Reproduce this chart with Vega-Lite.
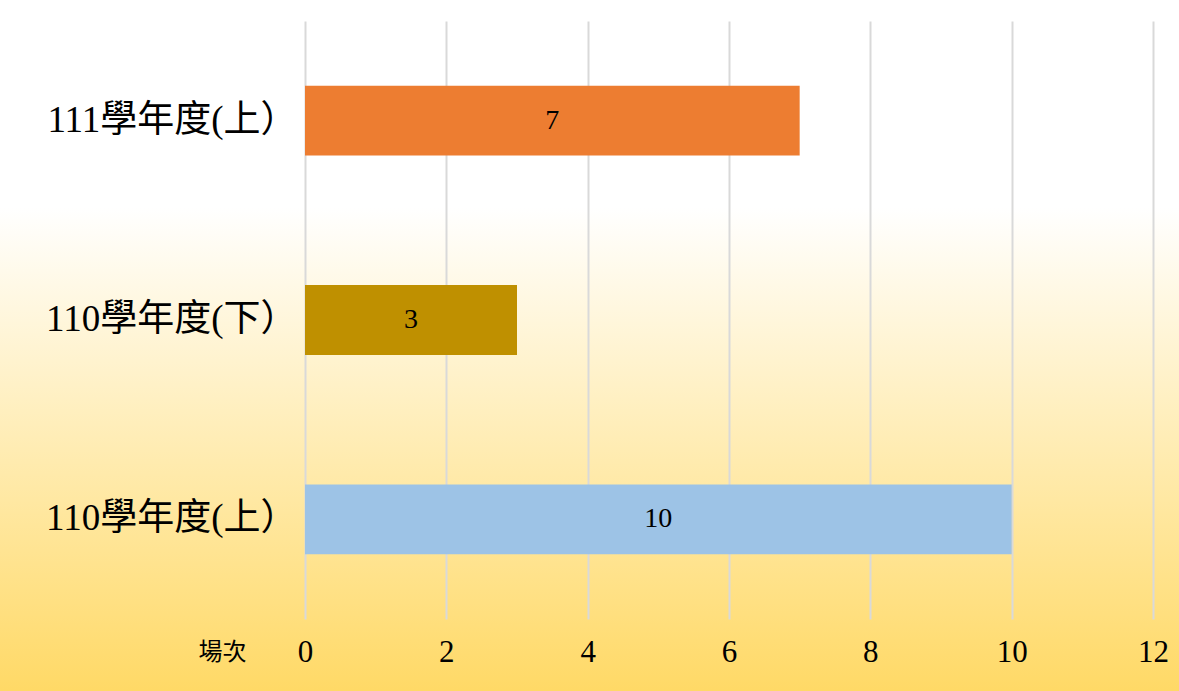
{
  "$schema": "https://vega.github.io/schema/vega-lite/v6.json",
  "width": 1179,
  "height": 691,
  "autosize": {"type": "none"},
  "padding": 0,
  "background": "#ffffff",
  "config": {
    "view": {"stroke": null, "fill": {"gradient": "linear", "x1": 0, "y1": 0, "x2": 0, "y2": 1, "stops": [{"offset": 0, "color": "#ffffff"}, {"offset": 0.3, "color": "#ffffff"}, {"offset": 1, "color": "#ffd966"}]}},
    "font": "'Liberation Serif', 'Noto Sans CJK TC'",
    "axis": {"labelFont": "'Liberation Serif', 'Noto Sans CJK TC'", "titleFont": "'Liberation Serif', 'Noto Sans CJK TC'"}
  },
  "data": {"values": [
    {"term": "111學年度(上）", "value": 7},
    {"term": "110學年度(下）", "value": 3},
    {"term": "110學年度(上）", "value": 10}
  ]},
  "transform": [{"calculate": "datum.value / 2", "as": "mid"}],
  "encoding": {
    "y": {"field": "term", "type": "nominal", "sort": ["111學年度(上）", "110學年度(下）", "110學年度(上）"],
      "scale": {"range": [21, 619], "paddingInner": 0.65, "paddingOuter": 0.325},
      "axis": {"title": null, "domain": false, "ticks": false, "offset": -305, "labelFontSize": 37, "labelColor": "#000000", "labelPadding": 8, "labelLimit": 400}}
  },
  "layer": [
    {
      "mark": {"type": "bar"},
      "encoding": {
        "x": {"field": "value", "type": "quantitative", "scale": {"domain": [0, 12], "range": [305, 1153], "nice": false},
          "axis": {"orient": "top", "values": [0, 2, 4, 6, 8, 10, 12], "format": "d", "offset": -619, "domain": false, "ticks": false, "grid": true, "gridColor": "#d9d9d9", "gridWidth": 2, "labelFontSize": 31, "labelColor": "#000000", "labelPadding": -33, "labelBaseline": "middle", "labelFlush": false,
            "title": "場次", "titleFontSize": 24, "titleFontWeight": "normal", "titleColor": "#000000", "titleX": 222, "titleY": 33, "titleAlign": "center", "titleBaseline": "middle", "titleAnchor": null}},
        "color": {"field": "term", "type": "nominal", "legend": null,
          "scale": {"domain": ["111學年度(上）", "110學年度(下）", "110學年度(上）"], "range": ["#ed7d31", "#bf9000", "#9dc3e6"]}}
      }
    },
    {
      "mark": {"type": "text", "fontSize": 28, "color": "#000000", "baseline": "middle", "align": "center"},
      "encoding": {
        "x": {"field": "mid", "type": "quantitative"},
        "text": {"field": "value", "type": "quantitative"}
      }
    }
  ]
}
